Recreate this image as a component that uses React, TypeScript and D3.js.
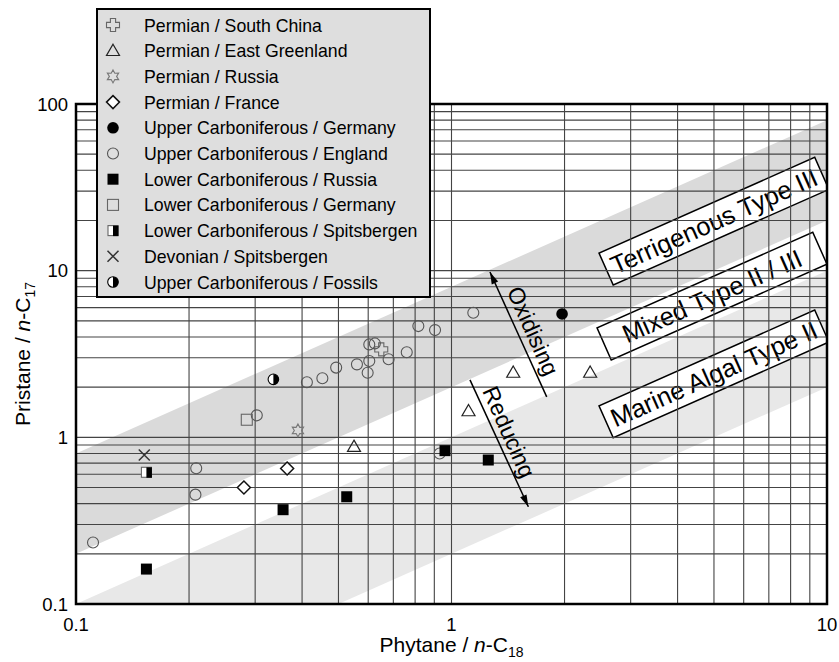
import * as d3 from 'd3';

// plot frame
const W = 839;
const H = 662;
const plot = { left: 76, right: 827, top: 104, bottom: 604 };

const xTickValues = [0.1, 1, 10];
const xTickLabels = ['0.1', '1', '10'];
const yTickValues = [0.1, 1, 10, 100];
const yTickLabels = ['0.1', '1', '10', '100'];

// [phytane/n-C18, pristane/n-C17]
const permianSouthChina = [[0.65, 3.37]];
const permianEastGreenland = [[0.55, 0.88], [1.11, 1.44], [1.46, 2.45], [2.34, 2.45]];
const permianRussia = [[0.39, 1.1]];
const permianFrance = [[0.28, 0.5], [0.365, 0.65]];
const upperCarbGermany = [[1.97, 5.5]];
const upperCarbEngland = [
  [0.111, 0.234], [0.209, 0.652], [0.208, 0.453], [0.303, 1.355], [0.412, 2.14],
  [0.453, 2.26], [0.493, 2.62], [0.56, 2.74], [0.604, 2.87], [0.598, 2.44],
  [0.604, 3.61], [0.625, 3.66], [0.68, 2.94], [0.76, 3.24], [0.816, 4.65],
  [0.904, 4.4], [1.143, 5.59], [0.93, 0.8],
];
const lowerCarbRussia = [[0.154, 0.162], [0.356, 0.368], [0.526, 0.44], [0.961, 0.832], [1.253, 0.731]];
const lowerCarbGermany = [[0.285, 1.275]];
const lowerCarbSpitsbergen = [[0.154, 0.617]];
const devonianSpitsbergen = [[0.152, 0.783]];
const upperCarbFossils = [[0.3355, 2.23]];

const seriesNames = [
  'Permian / South China',
  'Permian / East Greenland',
  'Permian / Russia',
  'Permian / France',
  'Upper Carboniferous / Germany',
  'Upper Carboniferous / England',
  'Lower Carboniferous / Russia',
  'Lower Carboniferous / Germany',
  'Lower Carboniferous / Spitsbergen',
  'Devonian / Spitsbergen',
  'Upper Carboniferous / Fossils',
];
const seriesKinds = ['cross', 'triangle', 'star', 'diamond', 'dot', 'circle', 'square', 'openSquare', 'halfSquare', 'x', 'halfCircle'];
const seriesData = [
  permianSouthChina, permianEastGreenland, permianRussia, permianFrance,
  upperCarbGermany, upperCarbEngland, lowerCarbRussia, lowerCarbGermany,
  lowerCarbSpitsbergen, devonianSpitsbergen, upperCarbFossils,
];

// pristane/phytane ratio limits of the shaded fields
const terrigenousBand = [2, 8];
const marineBand = [0.2, 1];

const bandLabelText = ['Terrigenous Type III', 'Mixed Type II / III', 'Marine Algal Type II'];
const bandLabelAt = [[5.0, 19.8], [4.94, 7.04], [5.0, 2.4]];

// arrows: [tail, head]
const oxidisingArrow = [[1.793, 1.75], [1.266, 9.81]];
const reducingArrow = [[1.12, 2.21], [1.602, 0.383]];
const arrowText = ['Oxidising', 'Reducing'];
const arrowTextAt = [[1.648, 4.34], [1.423, 1.076]];

const FONT = '"Liberation Sans", Arial, Helvetica, sans-serif';

function Marker({ kind, cx, cy }: { kind: string; cx: number; cy: number }) {
  const t = `translate(${cx},${cy})`;
  switch (kind) {
    case 'cross': {
      const a = 2.6, L = 6.5;
      const d = `M${-a},${-L}H${a}V${-a}H${L}V${a}H${a}V${L}H${-a}V${a}H${-L}V${-a}H${-a}Z`;
      return <path transform={t} d={d} fill="none" stroke="#666" strokeWidth={1.1} />;
    }
    case 'triangle':
      return <path transform={t} d="M0,-6.5L6.5,4.8L-6.5,4.8Z" fill="none" stroke="#222" strokeWidth={1.2} />;
    case 'star': {
      const pts = d3.range(12).map(i => {
        const r = i % 2 === 0 ? 6.5 : 3.6;
        const ang = (i * Math.PI) / 6 - Math.PI / 2;
        return [r * Math.cos(ang), r * Math.sin(ang)];
      });
      return <path transform={t} d={'M' + pts.map(p => p.join(',')).join('L') + 'Z'} fill="none" stroke="#777" strokeWidth={1.1} />;
    }
    case 'diamond':
      return <path transform={t} d="M0,-6.5L6.5,0L0,6.5L-6.5,0Z" fill="white" stroke="#111" strokeWidth={1.5} />;
    case 'dot':
      return <circle cx={cx} cy={cy} r={5.8} fill="#000" />;
    case 'circle':
      return <circle cx={cx} cy={cy} r={5.5} fill="none" stroke="#555" strokeWidth={1.1} />;
    case 'square':
      return <rect x={cx - 5.5} y={cy - 5.5} width={11} height={11} fill="#000" />;
    case 'openSquare':
      return <rect x={cx - 5.5} y={cy - 5.5} width={11} height={11} fill="none" stroke="#666" strokeWidth={1.1} />;
    case 'halfSquare':
      return (
        <g transform={t}>
          <rect x={-5} y={-5} width={10} height={10} fill="white" stroke="#666" strokeWidth={1.1} />
          <rect x={0} y={-5} width={5.5} height={10.5} fill="#000" />
        </g>
      );
    case 'x':
      return <path transform={t} d="M-5.5,-5.5L5.5,5.5M5.5,-5.5L-5.5,5.5" stroke="#333" strokeWidth={1.5} />;
    case 'halfCircle':
      return (
        <g transform={t}>
          <circle r={5.3} fill="white" stroke="#000" strokeWidth={1.1} />
          <path d="M0,-5.3A5.3,5.3 0 0 1 0,5.3Z" fill="#000" />
        </g>
      );
    default:
      return null;
  }
}

export default function App() {
  const x = d3.scaleLog().domain([0.1, 10]).range([plot.left, plot.right]);
  const y = d3.scaleLog().domain([0.1, 100]).range([plot.bottom, plot.top]);

  const xGrid = x.ticks().filter(v => v > 0.1 && v < 10);
  const yGrid = y.ticks().filter(v => v > 0.1 && v < 100);

  // slope of a constant-ratio line on screen
  const angle = (Math.atan((y(1) - y(10)) / (x(10) - x(1))) * 180) / Math.PI;

  const [x0, x1] = x.domain();
  const bandPath = ([lo, hi]: number[]) =>
    `M${x(x0)},${y(lo * x0)}L${x(x1)},${y(lo * x1)}L${x(x1)},${y(hi * x1)}L${x(x0)},${y(hi * x0)}Z`;

  const arrowHead = (tail: number[], head: number[]) => {
    const hx = x(head[0]), hy = y(head[1]);
    const a = Math.atan2(hy - y(tail[1]), hx - x(tail[0]));
    const len = 12, w = 3.5;
    const bx = hx - len * Math.cos(a), by = hy - len * Math.sin(a);
    const px = -Math.sin(a) * w, py = Math.cos(a) * w;
    return `M${hx},${hy}L${bx + px},${by + py}L${bx - px},${by - py}Z`;
  };

  const legend = { x: 97, y: 9, w: 333, h: 288, row: 25.7, first: 25 };

  return (
    <svg width={W} height={H} style={{ position: 'absolute', left: 0, top: 0, background: 'white' }} fontFamily={FONT}>
      <defs>
        <clipPath id="plotClip">
          <rect x={plot.left} y={plot.top} width={plot.right - plot.left} height={plot.bottom - plot.top} />
        </clipPath>
      </defs>

      <g clipPath="url(#plotClip)">
        <path d={bandPath(terrigenousBand)} fill="#dadada" />
        <path d={bandPath(marineBand)} fill="#e8e8e8" />

        {bandLabelText.map((txt, i) => {
          const cx = x(bandLabelAt[i][0]);
          const cy = y(bandLabelAt[i][1]);
          return (
            <g key={txt} transform={`translate(${cx},${cy}) rotate(${-angle})`}>
              <rect x={-118} y={-17.5} width={236} height={35} fill="white" stroke="#000" strokeWidth={1.5} />
              <text x={0} y={9} textAnchor="middle" fontSize={25.5} fill="#000">{txt}</text>
            </g>
          );
        })}

        {xGrid.map(v => (
          <line key={'gx' + v} x1={x(v)} x2={x(v)} y1={plot.top} y2={plot.bottom} stroke="#444" strokeWidth={1.1} />
        ))}
        {yGrid.map(v => (
          <line key={'gy' + v} x1={plot.left} x2={plot.right} y1={y(v)} y2={y(v)} stroke="#444" strokeWidth={1.1} />
        ))}

        {seriesData.map((pts, i) =>
          pts.map((p, j) => <Marker key={i + '-' + j} kind={seriesKinds[i]} cx={x(p[0])} cy={y(p[1])} />)
        )}

        {[oxidisingArrow, reducingArrow].map((ar, i) => (
          <g key={'ar' + i}>
            <line x1={x(ar[0][0])} y1={y(ar[0][1])} x2={x(ar[1][0])} y2={y(ar[1][1])} stroke="#000" strokeWidth={1.5} />
            <path d={arrowHead(ar[0], ar[1])} fill="#000" />
          </g>
        ))}
        {arrowText.map((txt, i) => (
          <text
            key={txt}
            transform={`translate(${x(arrowTextAt[i][0])},${y(arrowTextAt[i][1])}) rotate(${90 - angle})`}
            textAnchor="middle"
            y={8}
            fontSize={23}
          >
            {txt}
          </text>
        ))}
      </g>

      <rect x={plot.left} y={plot.top} width={plot.right - plot.left} height={plot.bottom - plot.top} fill="none" stroke="#000" strokeWidth={2.5} />

      {yTickValues.map((v, i) => (
        <text key={'yt' + v} x={plot.left - 8} y={y(v) + 6.5} textAnchor="end" fontSize={18.5}>{yTickLabels[i]}</text>
      ))}
      {xTickValues.map((v, i) => (
        <text key={'xt' + v} x={x(v)} y={plot.bottom + 27} textAnchor="middle" fontSize={18.5}>{xTickLabels[i]}</text>
      ))}

      <text transform={`translate(30,${(plot.top + plot.bottom) / 2}) rotate(-90)`} textAnchor="middle" fontSize={21}>
        Pristane / <tspan fontStyle="italic">n</tspan>-C<tspan dy={5} fontSize={14}>17</tspan>
      </text>
      <text x={(plot.left + plot.right) / 2} y={H - 10} textAnchor="middle" fontSize={21}>
        Phytane / <tspan fontStyle="italic">n</tspan>-C<tspan dy={5} fontSize={14}>18</tspan>
      </text>

      <g>
        <rect x={legend.x} y={legend.y} width={legend.w} height={legend.h} fill="#dedede" stroke="#000" strokeWidth={2} />
        {seriesNames.map((name, i) => {
          const cy = legend.y + legend.first - 9 + i * legend.row;
          return (
            <g key={name}>
              <Marker kind={seriesKinds[i]} cx={legend.x + 16} cy={cy} />
              <text x={legend.x + 47} y={cy + 6.5} fontSize={17.7}>{name}</text>
            </g>
          );
        })}
      </g>
    </svg>
  );
}
